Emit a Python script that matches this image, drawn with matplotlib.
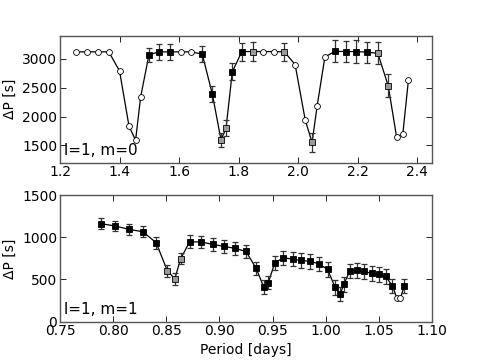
import matplotlib
matplotlib.use("Agg")
import matplotlib.pyplot as plt
import numpy as np

# ---- top panel data (l=1, m=0) ----
p_top = [1.255, 1.290, 1.328, 1.364, 1.400, 1.432, 1.454, 1.471, 1.499, 1.533,
         1.569, 1.605, 1.641, 1.678, 1.712, 1.741, 1.758, 1.779, 1.811, 1.847,
         1.882, 1.919, 1.954, 1.990, 2.024, 2.047, 2.064, 2.090, 2.124, 2.160,
         2.195, 2.231, 2.268, 2.303, 2.331, 2.352, 2.371]
dp_top = [3120, 3120, 3120, 3120, 2790, 1830, 1590, 2340, 3070, 3120,
          3120, 3120, 3120, 3080, 2385, 1595, 1800, 2775, 3125, 3125,
          3125, 3125, 3120, 2900, 1940, 1550, 2180, 3030, 3130, 3125,
          3125, 3115, 3095, 2530, 1645, 1700, 2640]
err_top = [0, 0, 0, 0, 0, 0, 0, 0, 125, 135,
           135, 0, 0, 140, 135, 115, 145, 145, 155, 160,
           0, 0, 160, 0, 0, 165, 0, 0, 190, 185,
           195, 180, 190, 200, 0, 0, 0]
kind_top = ['o', 'o', 'o', 'o', 'o', 'o', 'o', 'o', 'b', 'b',
            'b', 'o', 'o', 'b', 'b', 'g', 'g', 'b', 'b', 'g',
            'o', 'o', 'g', 'o', 'o', 'g', 'o', 'o', 'b', 'b',
            'b', 'b', 'g', 'g', 'o', 'o', 'o']

# ---- bottom panel data (l=1, m=1) ----
p_bot = [0.789, 0.802, 0.815, 0.828, 0.8405, 0.851, 0.858, 0.8635, 0.872, 0.883,
         0.894, 0.904, 0.915, 0.925, 0.9346, 0.9416, 0.946, 0.952, 0.960, 0.969,
         0.977, 0.9855, 0.9936, 1.0017, 1.0089, 1.0136, 1.017, 1.0226, 1.0295, 1.0363,
         1.0432, 1.0497, 1.0563, 1.0628, 1.0669, 1.0703, 1.0738]
dp_bot = [1160, 1133, 1093, 1065, 935, 603, 508, 745, 947, 943,
          915, 892, 868, 832, 631, 413, 462, 694, 757, 741,
          725, 714, 686, 619, 406, 326, 441, 599, 607, 595,
          571, 560, 536, 425, 279, 279, 421]
err_bot = [65, 65, 65, 65, 70, 70, 70, 65, 75, 75,
           75, 80, 80, 80, 80, 85, 80, 85, 85, 85,
           85, 85, 85, 85, 85, 85, 85, 85, 85, 85,
           85, 85, 85, 85, 0, 0, 85]
kind_bot = ['b', 'b', 'b', 'b', 'b', 'g', 'g', 'g', 'b', 'b',
            'b', 'b', 'b', 'b', 'b', 'b', 'b', 'b', 'b', 'b',
            'b', 'b', 'b', 'b', 'b', 'b', 'b', 'b', 'b', 'b',
            'b', 'b', 'b', 'b', 'o', 'o', 'b']

fig = plt.figure(figsize=(4.8, 3.62), dpi=100)
fig.patch.set_facecolor('white')
ax1 = fig.add_axes([0.125, 0.5506, 0.775, 0.3508])
ax2 = fig.add_axes([0.125, 0.1113, 0.775, 0.3500])


def draw(ax, p, dp, err, kind):
    p = np.array(p); dp = np.array(dp); err = np.array(err); kind = np.array(kind)
    ax.plot(p, dp, '-', color='k', lw=0.9, zorder=2)
    m = err > 0
    ax.errorbar(p[m], dp[m], yerr=err[m], fmt='none', ecolor='#333333',
                elinewidth=0.9, capsize=2.2, capthick=0.9, zorder=3)
    for k, mk, fc in [('o', 'o', 'white'), ('b', 's', 'black'), ('g', 's', '#999999')]:
        s = kind == k
        ax.plot(p[s], dp[s], linestyle='none', marker=mk, markersize=4.2,
                markerfacecolor=fc, markeredgecolor='k', markeredgewidth=0.6, zorder=4)
    ax.tick_params(direction='in', top=True, right=True, length=4, width=0.6,
                   labelsize=10, pad=2)
    for sp in ax.spines.values():
        sp.set_color('#555555')
        sp.set_linewidth(1.0)


draw(ax1, p_top, dp_top, err_top, kind_top)
draw(ax2, p_bot, dp_bot, err_bot, kind_bot)

ax1.set_xlim(1.2, 2.45)
ax1.set_ylim(1200, 3400)
ax1.set_xticks([1.2, 1.4, 1.6, 1.8, 2.0, 2.2, 2.4])
ax1.set_yticks([1500, 2000, 2500, 3000])
ax1.set_ylabel('ΔP [s]', fontsize=10, labelpad=4)
ax1.text(0.012, 0.04, 'l=1, m=0', transform=ax1.transAxes, fontsize=11,
         ha='left', va='bottom')

ax2.set_xlim(0.75, 1.10)
ax2.set_ylim(0, 1500)
ax2.set_xticks([0.75, 0.80, 0.85, 0.90, 0.95, 1.00, 1.05, 1.10])
ax2.set_xticklabels(['0.75', '0.80', '0.85', '0.90', '0.95', '1.00', '1.05', '1.10'])
ax2.set_yticks([0, 500, 1000, 1500])
ax2.set_ylabel('ΔP [s]', fontsize=10, labelpad=4)
ax2.set_xlabel('Period [days]', fontsize=10, labelpad=3)
ax2.text(0.012, 0.04, 'l=1, m=1', transform=ax2.transAxes, fontsize=11,
         ha='left', va='bottom')

fig.savefig('out.png', dpi=100, facecolor='white')
